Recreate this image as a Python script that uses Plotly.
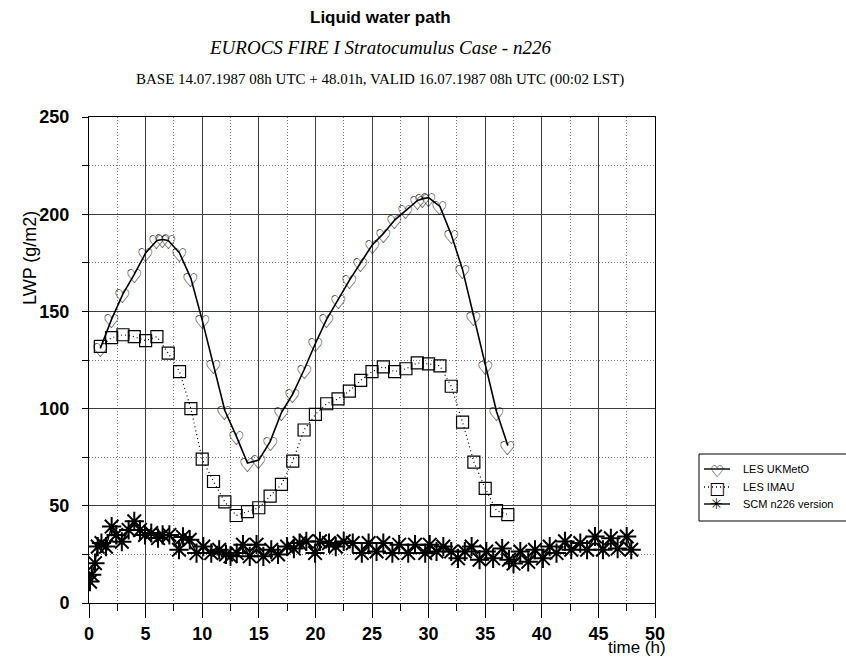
import plotly.graph_objects as go

# ---- LES UKMetO (hearts, solid line) ----
ukmeto_t = [1, 2, 3, 4, 5, 6, 6.5, 7, 8, 9, 10, 11, 12, 13, 14, 15, 16, 17, 18, 19,
            20, 21, 22, 23, 24, 25, 26, 27, 28, 29, 29.5, 30, 31, 32, 33, 34, 35, 36, 37]
ukmeto_lwp = [131, 146, 159, 169, 180, 186.5, 187, 186.5, 180, 167, 145.5, 122.5, 99, 86,
              72, 73.5, 83, 98, 107.5, 120, 133.5, 146, 156, 166, 175, 184, 190, 197, 202,
              207, 208, 208.5, 204, 189.5, 171.5, 147, 122, 98.5, 81]

# ---- LES IMAU (squares, dotted line) ----
imau_t = list(range(1, 38))
imau_lwp = [132, 136.5, 138, 137, 135, 137, 128.5, 119, 100, 74, 62.5, 52, 45, 47, 49,
            55, 61, 73, 89, 97, 102.5, 105, 109, 114.5, 119, 121.5, 119, 120.5, 123.5,
            123, 122, 111.5, 93, 72.5, 59, 47.5, 45.5]

# ---- SCM n226 version (asterisks) ----
scm_t = [0.09, 0.24, 0.53, 0.77, 1.1, 1.5, 2.0, 2.4, 2.9, 3.5, 4.0, 4.5, 4.95, 5.5, 6.1,
         6.5, 7.1, 7.95, 8.3, 8.9, 9.5, 10.1, 10.8, 11.5, 12.1, 12.5, 13.05, 13.6, 14.2,
         14.8, 15.4, 16.1, 16.7, 17.5, 18.1, 18.6, 19.2, 19.97, 20.4, 21.2, 21.8, 22.5,
         23.3, 24.1, 24.7, 25.4, 26.0, 26.8, 27.4, 28.2, 28.8, 29.7, 30.1, 30.7, 31.3,
         32.0, 32.6, 33.2, 33.8, 34.5, 35.1, 35.7, 36.5, 37.1, 37.5, 38.1, 38.8, 39.4,
         40.1, 40.7, 41.3, 42.05, 42.6, 43.4, 44.0, 44.7, 45.4, 46.1, 46.7, 47.5, 47.9]
scm_lwp = [11, 14.5, 20.5, 29, 30.8, 29, 39.3, 35, 31.5, 37.6, 42, 37.6, 35, 36, 33.4,
           35, 35, 27.4, 34, 32.5, 25.7, 29, 25.7, 27.4, 25, 24, 25.7, 30, 24, 30, 24,
           27.4, 25, 29, 28, 30.8, 31.7, 25.7, 31.7, 30.8, 29, 31.7, 30.8, 25.7, 30.8,
           26.5, 30.8, 25.7, 30, 25.7, 30, 25.7, 30, 26.5, 29, 26.5, 23, 26.5, 29, 22.3,
           26.5, 23, 28, 22.3, 20.3, 26.5, 21.2, 27.4, 23, 29, 25.7, 31.7, 27.4, 30.8,
           27.4, 34.2, 27.4, 33.3, 28, 34.2, 27.4]

x_ticks = [0, 5, 10, 15, 20, 25, 30, 35, 40, 45, 50]
y_ticks = [0, 50, 100, 150, 200, 250]

# plot frame in page pixels
FIG_W, FIG_H = 846, 662
L, R, T, B = 89, 655, 117, 603


def px(xp):
    return (xp - L) / (R - L)


def py(yp):
    return (B - yp) / (B - T)


fig = go.Figure()

fig.add_trace(go.Scatter(
    x=ukmeto_t, y=ukmeto_lwp, mode="lines",
    line=dict(color="black", width=1.6), name="LES UKMetO", showlegend=False))

fig.add_trace(go.Scatter(
    x=imau_t, y=imau_lwp, mode="lines+markers",
    line=dict(color="black", width=1.2, dash="1px,3px"),
    marker=dict(symbol="square-open", size=12, color="black", line=dict(width=1.2)),
    name="LES IMAU", showlegend=False))

fig.add_trace(go.Scatter(
    x=scm_t, y=scm_lwp, mode="lines+markers",
    line=dict(color="black", width=1.4),
    marker=dict(symbol="asterisk-open", size=16, color="black",
                line=dict(width=2, color="black")),
    name="SCM n226 version", showlegend=False))

tick_font = dict(family="Liberation Sans", size=18, color="black", weight="bold")
grid_minor = dict(showgrid=True, gridcolor="#7a7a7a", griddash="1px,2px", gridwidth=1)

fig.update_xaxes(
    range=[0, 50], tickvals=x_ticks, ticktext=[str(v) for v in x_ticks],
    showgrid=True, gridcolor="#3c3c3c", gridwidth=1,
    ticks="outside", ticklen=14, tickcolor="black", tickwidth=1,
    showline=True, linecolor="black", linewidth=1, mirror=True,
    zeroline=False, tickfont=tick_font,
    minor=dict(dtick=2.5, tick0=0, ticks="outside", ticklen=7, tickcolor="black", **grid_minor),
)
fig.update_yaxes(
    range=[0, 250], tickvals=y_ticks, ticktext=[str(v) for v in y_ticks],
    showgrid=True, gridcolor="#3c3c3c", gridwidth=1,
    ticks="outside", ticklen=15, tickcolor="rgba(0,0,0,0)",
    showline=True, linecolor="black", linewidth=1, mirror=True,
    zeroline=False, tickfont=tick_font,
    minor=dict(dtick=25, tick0=0, ticks="outside", ticklen=6, tickcolor="black", **grid_minor),
)

ann = []
# heart symbols of the UKMetO series, placed on the data points
for t, v in zip(ukmeto_t, ukmeto_lwp):
    ann.append(dict(text="♡", x=t, y=v, xref="x", yref="y", xanchor="center",
                    yanchor="middle", yshift=-2, showarrow=False,
                    font=dict(family="DejaVu Sans", size=19, color="black")))

# titles
CX = 380
ann.append(dict(text="<b>Liquid water path</b>", x=px(CX), y=py(18), xref="paper", yref="paper",
                xanchor="center", yanchor="middle", showarrow=False,
                font=dict(family="Liberation Sans", size=17, color="black")))
ann.append(dict(text="<i>EUROCS FIRE I Stratocumulus Case - n226</i>", x=px(CX), y=py(47),
                xref="paper", yref="paper", xanchor="center", yanchor="middle", showarrow=False,
                font=dict(family="Liberation Serif", size=19, color="black")))
ann.append(dict(text="BASE 14.07.1987 08h UTC + 48.01h, VALID 16.07.1987 08h UTC (00:02 LST)",
                x=px(CX), y=py(80), xref="paper", yref="paper", xanchor="center",
                yanchor="middle", showarrow=False,
                font=dict(family="Liberation Serif", size=15, color="black")))
# axis labels
ann.append(dict(text="time (h)", x=px(668), y=py(647), xref="paper", yref="paper",
                xanchor="right", yanchor="middle", showarrow=False,
                font=dict(family="Liberation Sans", size=17, color="black")))
ann.append(dict(text="LWP (g/m2)", x=px(30), y=py(258), xref="paper", yref="paper",
                xanchor="center", yanchor="middle", textangle=-90, showarrow=False,
                font=dict(family="Liberation Sans", size=18, color="black")))

# legend box
shapes = [dict(type="rect", xref="paper", yref="paper", x0=px(699), x1=px(850),
               y0=py(521), y1=py(454), line=dict(color="black", width=1))]
leg_rows = [469, 487, 504]
leg_names = ["LES UKMetO", "LES IMAU", "SCM n226 version"]
leg_dash = ["solid", "1px,3px", "solid"]
leg_glyph = ["♡", "□", "✳"]
leg_size = [16, 17, 15]
leg_shift = [-2, -1, 0]
for yy, name, dash, g, s, sh in zip(leg_rows, leg_names, leg_dash, leg_glyph, leg_size, leg_shift):
    shapes.append(dict(type="line", xref="paper", yref="paper", x0=px(704), x1=px(730),
                       y0=py(yy), y1=py(yy), line=dict(color="black", width=1.4, dash=dash)))
    ann.append(dict(text=g, x=px(717), y=py(yy), xref="paper", yref="paper", showarrow=False,
                    xanchor="center", yanchor="middle", yshift=sh,
                    font=dict(family="DejaVu Sans", size=s, color="black")))
    ann.append(dict(text=name, x=px(741), y=py(yy), xref="paper", yref="paper",
                    xanchor="left", yanchor="middle", showarrow=False,
                    font=dict(family="Liberation Sans", size=11, color="black")))

fig.update_layout(
    width=FIG_W, height=FIG_H,
    margin=dict(l=L, r=FIG_W - R, t=T, b=FIG_H - B, autoexpand=False),
    paper_bgcolor="white", plot_bgcolor="white",
    showlegend=False, annotations=ann, shapes=shapes,
)

fig.write_html("out.html")
